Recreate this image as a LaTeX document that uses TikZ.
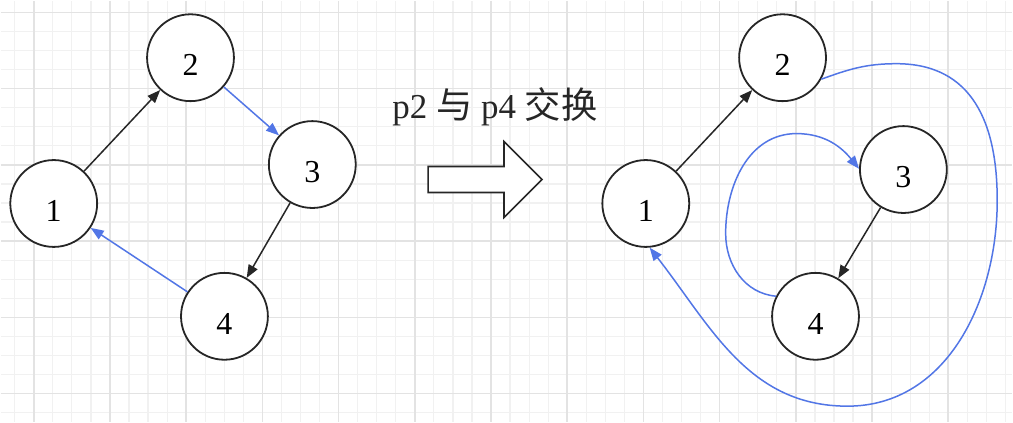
\documentclass[tikz,border=0pt]{standalone}
\usepackage{fontspec}
\setmainfont{Liberation Serif}
\newfontfamily\cjk[Scale=1.04]{Noto Sans CJK SC}
\usetikzlibrary{arrows.meta}
\definecolor{inkgray}{HTML}{262626}
\definecolor{swapblue}{HTML}{5276E6}
\definecolor{minorgrid}{HTML}{F1F1F1}
\definecolor{majorgrid}{HTML}{E3E3E3}
\begin{document}
\begin{tikzpicture}[x=1pt,y=1pt,
    state/.style={circle,draw=inkgray,line width=1.8pt,fill=white,minimum size=87pt,
      inner sep=0pt,font=\fontsize{32}{32}\selectfont,text height=36pt,text depth=0pt},
    plainedge/.style={draw=inkgray,line width=1.5pt,-{Triangle[length=13pt,width=10pt]}},
    swapedge/.style={plainedge,draw=swapblue}]
    % background and grid
    \fill[white] (0,0) rectangle (1013,-422);
    \foreach \k in {-1,...,51}
        \draw[minorgrid,line width=1.2pt] ({33+19.083*\k},0) -- ({33+19.083*\k},-422);
    \foreach \k in {0,...,21}
        \draw[minorgrid,line width=1.2pt] (0,{-11.7-19.083*\k}) -- (1013,{-11.7-19.083*\k});
    \foreach \k in {0,4,...,48}
        \draw[majorgrid,line width=1.6pt] ({33+19.083*\k},0) -- ({33+19.083*\k},-422);
    \foreach \k in {0,4,...,20}
        \draw[majorgrid,line width=1.6pt] (0,{-11.7-19.083*\k}) -- (1013,{-11.7-19.083*\k});
    % before the swap
    \node[state] (L1) at (53,-203) {1};
    \node[state] (L2) at (190,-57) {2};
    \node[state] (L3) at (312,-164) {3};
    \node[state] (L4) at (224,-316) {4};
    \draw[plainedge] (L1) -- (L2);
    \draw[swapedge] (L2) -- (L3);
    \draw[plainedge] (L3) -- (L4);
    \draw[swapedge] (L4) -- (L1);
    % caption and block arrow
    \node[anchor=base,font=\fontsize{35}{35}\selectfont,text=inkgray] (caption) at (495,-118)
        {p2 {\cjk 与} p4 {\cjk 交换}};
    \draw[inkgray,line width=1.6pt,fill=white] (428,-166) -- (504,-166) -- (504,-141)
        -- (542,-179) -- (504,-217) -- (504,-192) -- (428,-192) -- cycle;
    % after the swap
    \node[state] (R1) at (646,-203) {1};
    \node[state] (R2) at (783,-57) {2};
    \node[state] (R3) at (904,-169) {3};
    \node[state] (R4) at (816,-316) {4};
    \coordinate (outerN) at (897,-63);
    \coordinate (outerE) at (998,-200);
    \coordinate (outerS) at (848,-406);
    \coordinate (innerW) at (726,-233);
    \coordinate (innerN) at (797,-133);
    \draw[plainedge] (R1) -- (R2);
    \draw[plainedge] (R3) -- (R4);
    \draw[swapedge] (R2.-29) to[out=20,in=180] (outerN) to[out=0,in=90,looseness=1.15] (outerE)
        to[out=-90,in=0] (outerS) to[out=180,in=-52] (R1.-85);
    \draw[swapedge] (R4.153) to[out=175,in=-90] (innerW) to[out=90,in=180] (innerN)
        to[out=0,in=129] (R3.179);
\end{tikzpicture}
\end{document}
